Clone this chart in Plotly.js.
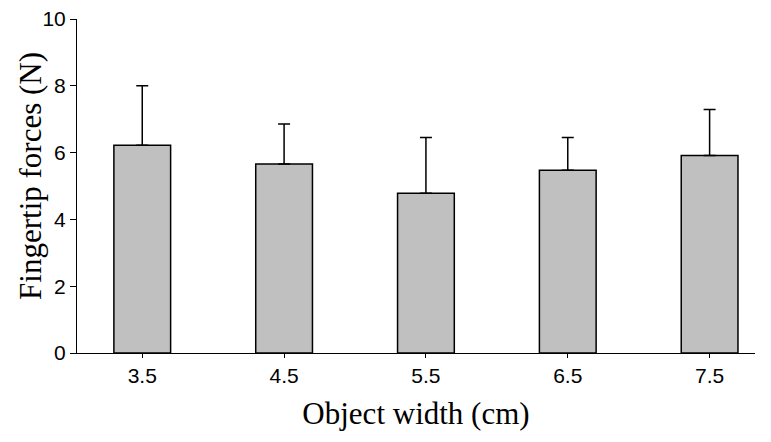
<!DOCTYPE html>
<html>
<head>
<meta charset="utf-8">
<script src="https://cdn.plot.ly/plotly-3.0.1.min.js"></script>
<style>html,body{margin:0;padding:0;background:#fff;}#chart{width:771px;height:442px;}</style>
</head>
<body>
<div id="chart"></div>
<script>
const widths = [3.5, 4.5, 5.5, 6.5, 7.5];
const tickLabels = ["3.5", "4.5", "5.5", "6.5", "7.5"];
const forces = [6.22, 5.66, 4.78, 5.47, 5.91];
const errors = [1.78, 1.20, 1.67, 0.98, 1.38];
const yTitle = 'Fingertip forces (N)';
const xTitle = 'Object width (cm)';

const trace = {
  type: 'bar',
  x: widths,
  y: forces,
  width: 0.4,
  marker: {color: '#c0c0c0', line: {color: '#000', width: 1.5}},
  error_y: {
    type: 'data',
    symmetric: false,
    array: errors,
    arrayminus: errors.map(() => 0),
    color: '#000',
    thickness: 1.5,
    width: 6
  },
  hoverinfo: 'none'
};

const layout = {
  width: 771,
  height: 442,
  margin: {l: 77, r: 16, t: 19, b: 89},
  paper_bgcolor: '#fff',
  plot_bgcolor: '#fff',
  showlegend: false,
  xaxis: {
    range: [3.04, 7.82],
    tickvals: widths,
    ticktext: tickLabels,
    showgrid: false,
    zeroline: false,
    showline: true,
    linecolor: '#000',
    linewidth: 1,
    ticks: 'outside',
    ticklen: 4,
    tickcolor: '#000',
    tickfont: {family: 'Liberation Sans, Arial, sans-serif', size: 21, color: '#000'},
    title: {text: xTitle, font: {family: 'Liberation Serif, Times New Roman, serif', size: 31, color: '#000'}, standoff: 16}
  },
  yaxis: {
    range: [0, 10],
    tickvals: [0, 2, 4, 6, 8, 10],
    showgrid: false,
    zeroline: false,
    showline: true,
    linecolor: '#000',
    linewidth: 1,
    ticks: 'outside',
    ticklen: 6,
    tickcolor: '#000',
    tickfont: {family: 'Liberation Sans, Arial, sans-serif', size: 21, color: '#000'}
  },
  annotations: [{
    text: yTitle,
    xref: 'paper', yref: 'paper',
    x: -0.068, y: 0.53,
    xanchor: 'center', yanchor: 'middle',
    textangle: -90,
    showarrow: false,
    font: {family: 'Liberation Serif, Times New Roman, serif', size: 31, color: '#000'}
  }]
};

Plotly.newPlot('chart', [trace], layout, {displayModeBar: false, staticPlot: true});
</script>
</body>
</html>
